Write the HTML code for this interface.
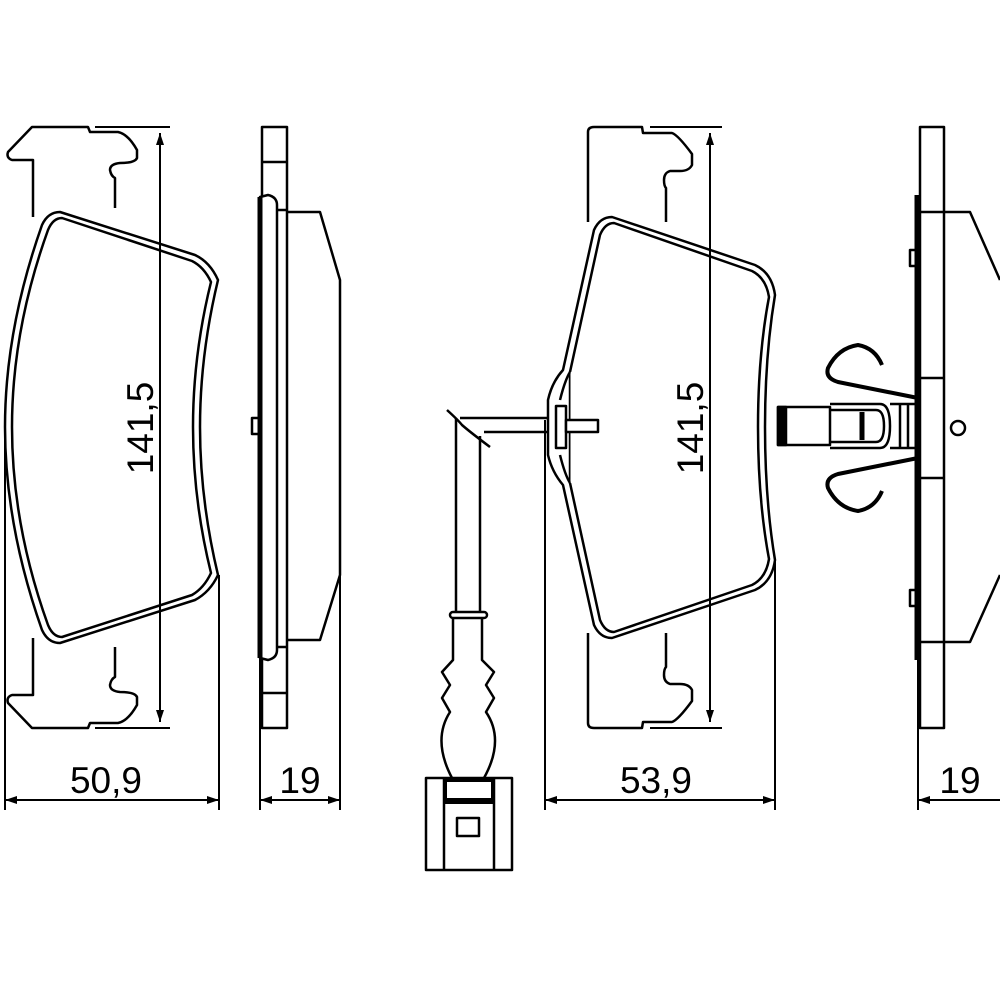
<!DOCTYPE html>
<html><head><style>html,body{margin:0;padding:0;background:#fff}svg{display:block}</style></head>
<body>
<svg width="1000" height="1000" viewBox="0 0 1000 1000" xmlns="http://www.w3.org/2000/svg">
<defs>
<marker id="a" markerWidth="12" markerHeight="8" refX="12" refY="4" orient="auto" markerUnits="userSpaceOnUse"><path d="M0,0 L12,4 L0,8 Z" fill="#000"/></marker>
</defs>
<g fill="none" stroke="#000" stroke-width="2.5" stroke-linejoin="round">
<g id="lp">
<path d="M33,217 L33,160 L12,160 Q6,158 8,152 L32,127 L88,127 L90,132 L118,132 Q128,134 137,150 L137,158 Q135,163 120,163 Q110,164 110,170 Q111,176 115,178 L115,208"/>
</g>
<use href="#lp" transform="matrix(1 0 0 -1 0 855)"/>
<path d="M60,212 Q48,212 42,225 Q5,330 5,427 Q5,525 42,630 Q48,643 60,643 L195,600 Q210,592 218,575 Q200,500 200,427 Q200,355 218,280 Q210,262 195,255 Z"/>
<path d="M62,218 Q53,218 48,230 Q12,330 12,427 Q12,525 48,625 Q53,637 62,637 L192,595 Q204,588 211,573 Q193,500 193,427 Q193,355 211,282 Q204,267 192,261 Z"/>
<line x1="160" y1="133" x2="160" y2="722" stroke-width="2" marker-end="url(#a)"/>
<line x1="160" y1="722" x2="160" y2="133" stroke-width="2" marker-end="url(#a)"/>
<line x1="95" y1="127" x2="170" y2="127" stroke-width="2"/>
<line x1="95" y1="728" x2="170" y2="728" stroke-width="2"/>
<line x1="5" y1="430" x2="5" y2="810" stroke-width="2"/>
<line x1="219" y1="575" x2="219" y2="810" stroke-width="2"/>
<line x1="5" y1="800" x2="219" y2="800" stroke-width="2" marker-end="url(#a)"/>
<line x1="219" y1="800" x2="5" y2="800" stroke-width="2" marker-end="url(#a)"/>

<rect x="262" y="127" width="25" height="601"/>
<line x1="262" y1="162" x2="287" y2="162"/>
<line x1="262" y1="693" x2="287" y2="693"/>
<path d="M260,197 L268,195 Q277,197 277,205 L277,650 Q277,658 268,660 L260,658 Z" fill="#fff"/>
<line x1="260" y1="197" x2="260" y2="658" stroke-width="5"/>
<line x1="277" y1="210" x2="287" y2="210"/>
<line x1="277" y1="647" x2="287" y2="647"/>
<rect x="252" y="418" width="7" height="16"/>
<path d="M287,212 L320,212 L340,280 L340,575 L320,640 L287,640"/>
<line x1="260" y1="658" x2="260" y2="810" stroke-width="2"/>
<line x1="340" y1="575" x2="340" y2="810" stroke-width="2"/>
<line x1="260" y1="800" x2="340" y2="800" stroke-width="2" marker-end="url(#a)"/>
<line x1="340" y1="800" x2="260" y2="800" stroke-width="2" marker-end="url(#a)"/>

<g id="rp">
<path d="M588,222 L588,132 Q588,127 594,127 L642,127 L643,133 L672,133 Q678,135 692,154 L692,165 Q689,171 680,171 L670,171 Q664,173 664,180 Q664,186 666,188 L666,222"/>
</g>
<use href="#rp" transform="matrix(1 0 0 -1 0 855)"/>
<path d="M612,217 Q600,217 594,230 L563,370 Q552,382 548,400 L548,455 Q552,472 563,485 L594,625 Q600,638 612,638 L755,590 Q772,582 775,560 Q765,500 765,427 Q765,355 775,295 Q772,273 755,265 Z"/>
<path d="M614,223 Q605,223 600,235 L570,372 L570,483 L600,620 Q605,632 614,632 L752,585 Q766,578 769,559 Q758,500 758,427 Q758,355 769,297 Q766,278 752,271 Z"/>
<line x1="572" y1="372" x2="572" y2="483" stroke="#fff" stroke-width="3"/>
<path d="M560,400 Q565,380 570,372 M560,455 Q565,475 570,483"/>
<line x1="710" y1="133" x2="710" y2="722" stroke-width="2" marker-end="url(#a)"/>
<line x1="710" y1="722" x2="710" y2="133" stroke-width="2" marker-end="url(#a)"/>
<line x1="650" y1="127" x2="722" y2="127" stroke-width="2"/>
<line x1="650" y1="728" x2="722" y2="728" stroke-width="2"/>
<line x1="545" y1="420" x2="545" y2="810" stroke-width="2"/>
<line x1="775" y1="560" x2="775" y2="810" stroke-width="2"/>
<line x1="545" y1="800" x2="775" y2="800" stroke-width="2" marker-end="url(#a)"/>
<line x1="775" y1="800" x2="545" y2="800" stroke-width="2" marker-end="url(#a)"/>

<rect x="556" y="406" width="10" height="42" fill="#fff"/>
<rect x="566" y="420" width="32" height="12" fill="#fff"/>
<path d="M460,418 L548,418 M484,432 L548,432"/>
<path d="M447,410 Q458,420 462,425 Q470,432 490,447"/>
<path d="M456,418 L456,612 M480,436 L480,612"/>
<rect x="450" y="612" width="37" height="6" rx="3"/>
<path d="M453,618 L453,660 L442,672 L450,685 L442,698 L450,712 Q432,740 452,778 M482,618 L482,660 L494,672 L486,685 L494,698 L486,712 Q505,740 484,778"/>
<rect x="426" y="778" width="86" height="92"/>
<line x1="444" y1="778" x2="444" y2="870"/>
<line x1="494" y1="778" x2="494" y2="870"/>
<rect x="445" y="780" width="48" height="20" stroke-width="4"/>
<line x1="444" y1="802" x2="494" y2="802" stroke-width="4"/>
<rect x="457" y="818" width="22" height="18"/>

<rect x="920" y="127" width="24" height="601"/>
<line x1="920" y1="212" x2="944" y2="212"/>
<line x1="920" y1="378" x2="944" y2="378"/>
<line x1="920" y1="478" x2="944" y2="478"/>
<line x1="920" y1="642" x2="944" y2="642"/>
<line x1="917" y1="195" x2="917" y2="660" stroke-width="5"/>
<rect x="910" y="250" width="6" height="16"/>
<rect x="910" y="590" width="6" height="16"/>
<circle cx="958" cy="428" r="7"/>
<path d="M944,212 L970,212 L1000,280 M1000,575 L970,642 L944,642"/>
<line x1="918" y1="660" x2="918" y2="810" stroke-width="2"/>
<line x1="918" y1="800" x2="1000" y2="800" stroke-width="2"/>
<path d="M918,800 L930,796 L930,804 Z" fill="#000" stroke="none"/>
<path d="M918,398 L838,382 Q825,378 828,368 Q838,348 858,345 Q875,348 882,365" stroke-width="4"/>
<path d="M918,458 L838,474 Q825,478 828,488 Q838,508 858,511 Q875,508 882,491" stroke-width="4"/>
<rect x="778" y="407" width="52" height="38" stroke-width="2.5"/>
<rect x="778" y="407" width="8" height="38" fill="#000"/>
<path d="M830,404 L880,404 Q890,404 890,426 Q890,448 880,448 L830,448"/>
<path d="M830,410 L876,410 Q884,410 884,426 Q884,442 876,442 L830,442"/>
<line x1="862" y1="412" x2="862" y2="440" stroke-width="5"/>
<path d="M890,404 L918,404 M890,448 L918,448 M900,404 L900,448 M908,404 L908,448"/>
</g>
<g font-family="Liberation Sans, sans-serif" font-size="37" fill="#000">
<text x="106" y="793" text-anchor="middle">50,9</text>
<text x="300" y="793" text-anchor="middle">19</text>
<text x="656" y="793" text-anchor="middle">53,9</text>
<text x="960" y="793" text-anchor="middle">19</text>
<text transform="translate(153,428) rotate(-90)" text-anchor="middle">141,5</text>
<text transform="translate(703,428) rotate(-90)" text-anchor="middle">141,5</text>
</g>
</svg>
</body></html>
